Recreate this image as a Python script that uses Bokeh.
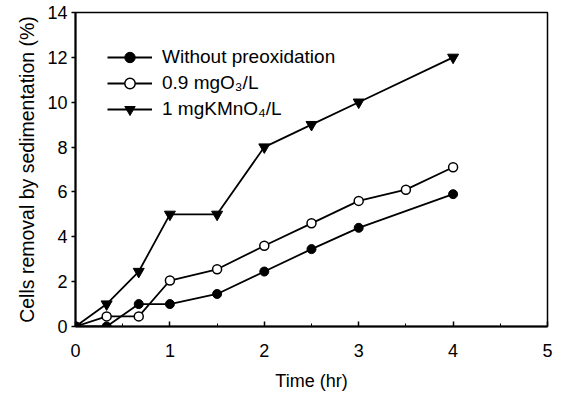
from bokeh.plotting import figure
from bokeh.models import Range1d, FixedTicker
from bokeh.embed import file_html
from bokeh.resources import INLINE

# Data
time_without = [0, 0.33, 0.67, 1, 1.5, 2, 2.5, 3, 4]
without_preox = [0, 0, 1.0, 1.0, 1.45, 2.45, 3.45, 4.4, 5.9]

time_ozone = [0, 0.33, 0.67, 1, 1.5, 2, 2.5, 3, 3.5, 4]
ozone = [0, 0.45, 0.45, 2.05, 2.55, 3.6, 4.6, 5.6, 6.1, 7.1]

time_kmno4 = [0, 0.33, 0.67, 1, 1.5, 2, 2.5, 3, 4]
kmno4 = [0, 1.0, 2.45, 5.0, 5.0, 8.0, 9.0, 10.0, 12.0]

x_ticks = [0, 1, 2, 3, 4, 5]
y_ticks = [0, 2, 4, 6, 8, 10, 12, 14]

label_without = "Without preoxidation"
label_ozone = "0.9 mgO\u2083/L"
label_kmno4 = "1 mgKMnO\u2084/L"

FONT = "Liberation Sans"

p = figure(width=561, height=401, output_backend="svg", toolbar_location=None,
           x_range=Range1d(0, 5), y_range=Range1d(0, 14),
           min_border_left=75, min_border_right=14, min_border_top=12, min_border_bottom=75)
p.grid.visible = False
p.background_fill_color = "white"
p.border_fill_color = "white"
p.outline_line_color = "black"
p.outline_line_width = 1.5

lw = 1.8
p.line(time_without, without_preox, line_color="black", line_width=lw, legend_label=label_without)
p.scatter(time_without, without_preox, marker="circle", size=9, fill_color="black",
          line_color="black", legend_label=label_without)

p.line(time_ozone, ozone, line_color="black", line_width=lw, legend_label=label_ozone)
p.scatter(time_ozone, ozone, marker="circle", size=9, fill_color="white",
          line_color="black", line_width=1.5, legend_label=label_ozone)

p.line(time_kmno4, kmno4, line_color="black", line_width=lw, legend_label=label_kmno4)
p.scatter(time_kmno4, kmno4, marker="inverted_triangle", size=11, fill_color="black",
          line_color="black", legend_label=label_kmno4)

# axes
xa = p.xaxis[0]
xa.ticker = FixedTicker(ticks=x_ticks, minor_ticks=[0.5, 1.5, 2.5, 3.5, 4.5])
xa.axis_label = "Time (hr)"
ya = p.yaxis[0]
ya.ticker = FixedTicker(ticks=y_ticks, minor_ticks=[])
ya.axis_label = "Cells removal by sedimentation (%)"

for ax in (xa, ya):
    ax.axis_line_color = "black"
    ax.axis_line_width = 2
    ax.major_tick_line_color = "black"
    ax.major_tick_line_width = 1.5
    ax.minor_tick_line_color = "black"
    ax.major_label_text_font = FONT
    ax.major_label_text_font_size = "18px"
    ax.major_label_text_color = "black"
    ax.axis_label_text_font = FONT
    ax.axis_label_text_font_style = "normal"
    ax.axis_label_text_color = "black"

xa.axis_label_text_font_size = "18px"
ya.axis_label_text_font_size = "19.5px"

xa.major_tick_in = 5
xa.major_tick_out = 0
xa.minor_tick_in = 3
xa.minor_tick_out = 0
xa.major_label_standoff = 17
xa.axis_label_standoff = 11

ya.major_tick_in = 0
ya.major_tick_out = 4
ya.major_label_standoff = 4
ya.axis_label_standoff = 6

lg = p.legend[0]
lg.location = "top_left"
lg.margin = 22
lg.padding = 10
lg.border_line_alpha = 0
lg.background_fill_alpha = 0
lg.glyph_width = 45
lg.glyph_height = 26
lg.label_height = 26
lg.spacing = 0
lg.label_standoff = 10
lg.label_text_font = FONT
lg.label_text_font_size = "19px"
lg.label_text_color = "black"

open("out.html", "w").write(file_html(p, INLINE))
